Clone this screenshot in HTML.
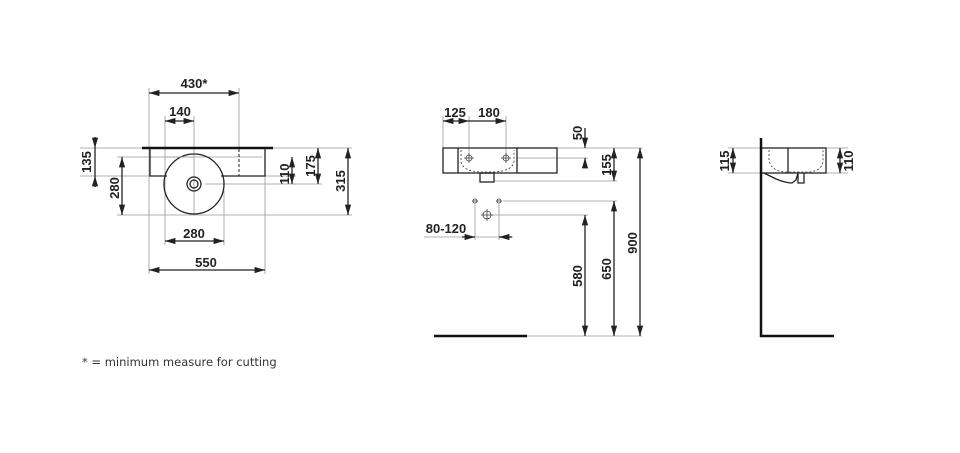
<!DOCTYPE html>
<html><head><meta charset="utf-8"><style>
html,body{margin:0;padding:0;background:#fff;width:960px;height:453px;overflow:hidden}
svg{display:block}
.t{font-family:"Liberation Sans",sans-serif;font-weight:bold;font-size:13px;fill:#222}
.d{stroke:#999;stroke-width:0.8;fill:none}
.k{stroke:#222;stroke-width:1.3;fill:none}
</style></head><body>
<svg width="960" height="453" viewBox="0 0 960 453">
<defs>
<marker id="a" viewBox="0 0 10 6" refX="10" refY="3" markerWidth="8" markerHeight="5" orient="auto-start-reverse"><path d="M0,0L10,3L0,6z" fill="#222"/></marker>
</defs>
<!-- LEFT VIEW -->
<g class="d">
<line x1="149" y1="88" x2="149" y2="274"/><line x1="239" y1="88" x2="239" y2="148"/>
<line x1="165" y1="116" x2="165" y2="245"/><line x1="194" y1="116" x2="194" y2="215"/>
<line x1="224" y1="190" x2="224" y2="245"/><line x1="265" y1="176" x2="265" y2="274"/>
<line x1="80" y1="148" x2="142" y2="148"/><line x1="80" y1="176" x2="150" y2="176"/>
<line x1="117" y1="157" x2="262" y2="157"/><line x1="117" y1="215" x2="352" y2="215"/>
<line x1="205" y1="184" x2="296" y2="184"/><line x1="273" y1="148" x2="352" y2="148"/>
<line x1="265" y1="176" x2="296" y2="176"/><line x1="292" y1="184" x2="322" y2="184"/>
</g>
<g class="k" marker-start="url(#a)" marker-end="url(#a)" stroke-width="0.9">
<line x1="149" y1="93" x2="239" y2="93"/><line x1="165" y1="121" x2="194" y2="121"/>
<line x1="165" y1="241" x2="224" y2="241"/><line x1="149" y1="270" x2="265" y2="270"/>
<line x1="122" y1="157" x2="122" y2="215"/><line x1="318" y1="148" x2="318" y2="184"/>
<line x1="348" y1="148" x2="348" y2="215"/>
</g>
<g class="k" stroke-width="0.9">
<line x1="95" y1="137" x2="95" y2="148" marker-end="url(#a)"/><line x1="95" y1="187" x2="95" y2="176" marker-end="url(#a)"/>
<line x1="95" y1="148" x2="95" y2="176"/>
<line x1="292" y1="157" x2="292" y2="184" marker-start="url(#a)" marker-end="url(#a)"/>
</g>
<line x1="142" y1="148" x2="273" y2="148" stroke="#111" stroke-width="2.5"/>
<path class="k" d="M150,148V176H167M221,176H265V148"/>
<circle class="k" cx="194" cy="184" r="30" fill="#fff"/>
<circle class="k" cx="194" cy="184" r="7" stroke-width="1"/><circle class="k" cx="194" cy="184" r="4" stroke-width="1"/>
<line x1="239" y1="149" x2="239" y2="176" stroke="#222" stroke-dasharray="3,2"/>
<line x1="165" y1="157" x2="194" y2="157" stroke="#999" stroke-width="0.8"/>
<text class="t" x="194" y="88" text-anchor="middle">430*</text>
<text class="t" x="180" y="116" text-anchor="middle">140</text>
<text class="t" x="194" y="238" text-anchor="middle">280</text>
<text class="t" x="206" y="267" text-anchor="middle">550</text>
<text class="t" transform="translate(91,162) rotate(-90)" text-anchor="middle">135</text>
<text class="t" transform="translate(119,188) rotate(-90)" text-anchor="middle">280</text>
<text class="t" transform="translate(289,174) rotate(-90)" text-anchor="middle">110</text>
<text class="t" transform="translate(315,166) rotate(-90)" text-anchor="middle">175</text>
<text class="t" transform="translate(345,181) rotate(-90)" text-anchor="middle">315</text>
<!-- MIDDLE VIEW -->
<g class="d">
<line x1="443" y1="116" x2="443" y2="148"/><line x1="469" y1="116" x2="469" y2="158"/><line x1="506" y1="116" x2="506" y2="158"/>
<line x1="557" y1="148" x2="642" y2="148"/><line x1="517" y1="158" x2="588" y2="158"/>
<line x1="494" y1="181" x2="617" y2="181"/><line x1="503" y1="201" x2="617" y2="201"/>
<line x1="492" y1="215" x2="588" y2="215"/><line x1="527" y1="336" x2="642" y2="336"/>
<line x1="475" y1="204" x2="475" y2="240"/><line x1="499" y1="204" x2="499" y2="240"/>
<line x1="424" y1="237" x2="513" y2="237"/>
</g>
<g class="k" stroke-width="0.9">
<line x1="443" y1="121" x2="469" y2="121" marker-start="url(#a)" marker-end="url(#a)"/>
<line x1="469" y1="121" x2="506" y2="121" marker-end="url(#a)"/>
<line x1="585" y1="128" x2="585" y2="148" marker-end="url(#a)"/>
<line x1="585" y1="168" x2="585" y2="158" marker-end="url(#a)"/>
<line x1="614" y1="148" x2="614" y2="181" marker-start="url(#a)" marker-end="url(#a)"/>
<line x1="640" y1="148" x2="640" y2="336" marker-start="url(#a)" marker-end="url(#a)"/>
<line x1="614" y1="201" x2="614" y2="336" marker-start="url(#a)" marker-end="url(#a)"/>
<line x1="585" y1="215" x2="585" y2="336" marker-start="url(#a)" marker-end="url(#a)"/>
<line x1="462" y1="237" x2="475" y2="237" marker-end="url(#a)"/>
<line x1="512" y1="237" x2="499" y2="237" marker-end="url(#a)"/>
</g>
<rect class="k" x="443" y="148" width="114" height="25"/>
<line class="k" x1="458" y1="148" x2="458" y2="173"/><line class="k" x1="517" y1="148" x2="517" y2="173"/>
<path d="M461,150V162Q463,171 480,172H494Q512,171 514,162V150" fill="none" stroke="#333" stroke-dasharray="2,2" stroke-width="0.8"/>
<rect class="k" x="480" y="173" width="14" height="9"/>
<g stroke="#444" stroke-width="0.8" fill="none">
<circle cx="469" cy="158" r="3"/><line x1="464" y1="158" x2="474" y2="158"/><line x1="469" y1="153" x2="469" y2="163"/>
<circle cx="506" cy="158" r="3"/><line x1="501" y1="158" x2="511" y2="158"/><line x1="506" y1="153" x2="506" y2="163"/>
<circle cx="475" cy="201" r="2"/><line x1="472" y1="201" x2="478" y2="201"/>
<circle cx="499" cy="201" r="2"/><line x1="496" y1="201" x2="502" y2="201"/>
<circle cx="487" cy="215" r="4"/><line x1="481" y1="215" x2="493" y2="215"/><line x1="487" y1="209" x2="487" y2="221"/>
</g>
<line x1="434" y1="336" x2="527" y2="336" stroke="#111" stroke-width="2.5"/>
<text class="t" x="455" y="117" text-anchor="middle">125</text>
<text class="t" x="489" y="117" text-anchor="middle">180</text>
<text class="t" x="446" y="233" text-anchor="middle">80-120</text>
<text class="t" transform="translate(582,133) rotate(-90)" text-anchor="middle">50</text>
<text class="t" transform="translate(611,165) rotate(-90)" text-anchor="middle">155</text>
<text class="t" transform="translate(637,243) rotate(-90)" text-anchor="middle">900</text>
<text class="t" transform="translate(611,269) rotate(-90)" text-anchor="middle">650</text>
<text class="t" transform="translate(582,276) rotate(-90)" text-anchor="middle">580</text>
<!-- RIGHT VIEW -->
<g class="d">
<line x1="728" y1="148" x2="761" y2="148"/><line x1="728" y1="173" x2="761" y2="173"/>
<line x1="826" y1="148" x2="848" y2="148"/><line x1="826" y1="173" x2="848" y2="173"/>
</g>
<g class="k" stroke-width="0.9">
<line x1="733" y1="148" x2="733" y2="173" marker-start="url(#a)" marker-end="url(#a)"/>
<line x1="840" y1="148" x2="840" y2="173" marker-start="url(#a)" marker-end="url(#a)"/>
</g>
<rect class="k" x="761" y="148" width="65" height="25"/>
<line class="k" x1="788" y1="148" x2="788" y2="173"/>
<path d="M769,150V160Q771,171 785,172H810Q823,170 823,160V150" fill="none" stroke="#333" stroke-dasharray="2,2" stroke-width="0.8"/>
<path class="k" d="M764,173L776,179Q786,183 792,183L796,180L798,173M798,173V183H804V173" stroke-width="1"/>
<path d="M761,138V336H834" fill="none" stroke="#111" stroke-width="2.5"/>
<text class="t" transform="translate(729,161) rotate(-90)" text-anchor="middle">115</text>
<text class="t" transform="translate(853,161) rotate(-90)" text-anchor="middle">110</text>
<text x="82" y="366" font-family="'DejaVu Sans','Liberation Sans',sans-serif" font-size="11.5" fill="#333">* = minimum measure for cutting</text>
</svg>
</body></html>
